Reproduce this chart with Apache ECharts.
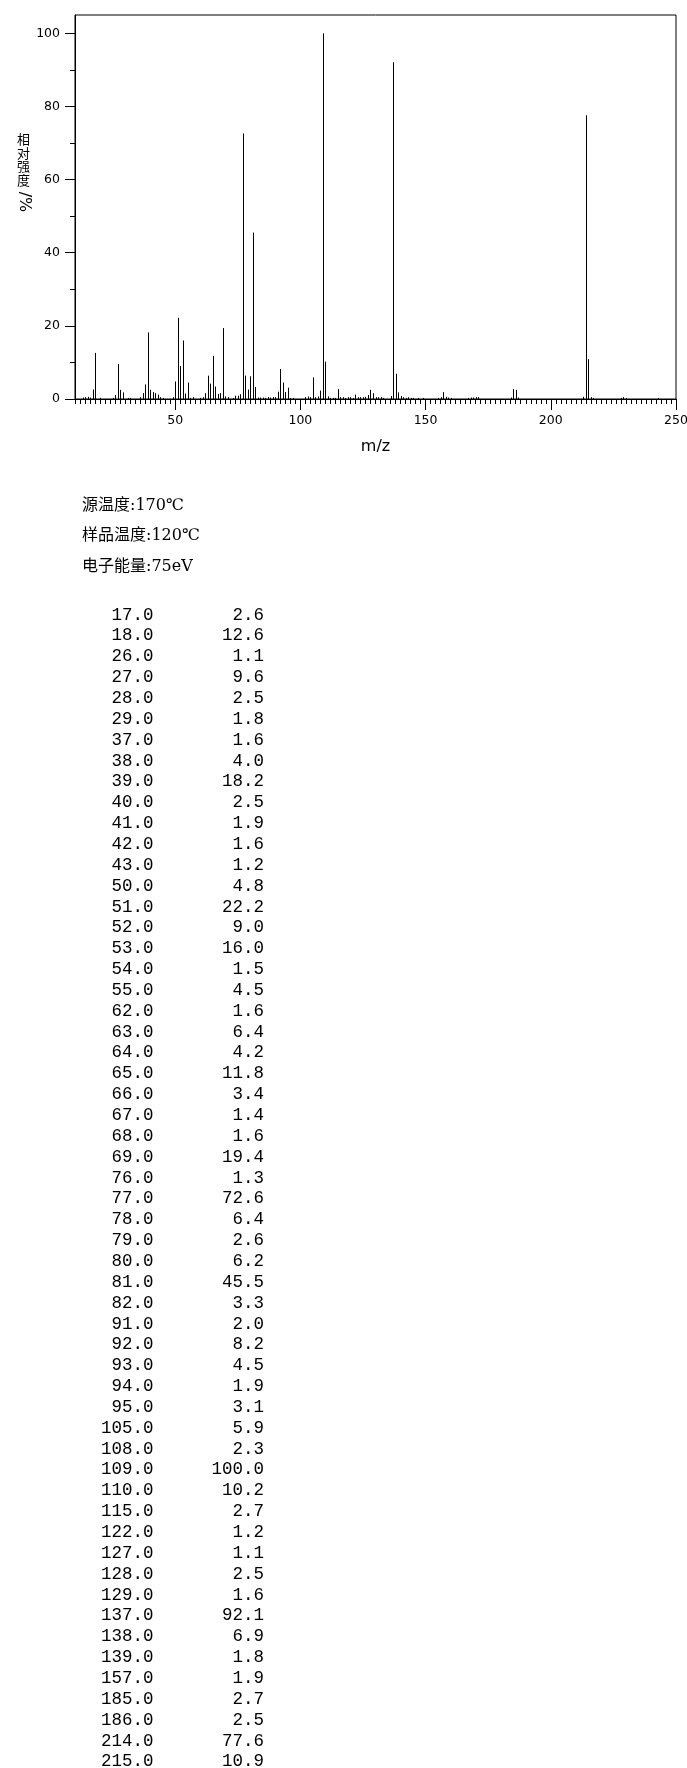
<!DOCTYPE html>
<html>
<head>
<meta charset="utf-8">
<script src="https://cdn.jsdelivr.net/npm/echarts@6/dist/echarts.min.js"></script>
<style>
html,body{margin:0;padding:0;background:#fff;}
#chart{width:687px;height:1768px;}
</style>
</head>
<body>
<div id="chart"></div>
<script>
// Listed peaks (m/z, relative intensity %)
const tableMz = [17,18,26,27,28,29,37,38,39,40,41,42,43,50,51,52,53,54,55,62,63,64,65,66,67,68,69,76,77,78,79,80,81,82,91,92,93,94,95,105,108,109,110,115,122,127,128,129,137,138,139,157,185,186,214,215];
const tableInt = [2.6,12.6,1.1,9.6,2.5,1.8,1.6,4.0,18.2,2.5,1.9,1.6,1.2,4.8,22.2,9.0,16.0,1.5,4.5,1.6,6.4,4.2,11.8,3.4,1.4,1.6,19.4,1.3,72.6,6.4,2.6,6.2,45.5,3.3,2.0,8.2,4.5,1.9,3.1,5.9,2.3,100.0,10.2,2.7,1.2,1.1,2.5,1.6,92.1,6.9,1.8,1.9,2.7,2.5,77.6,10.9];

// Small peaks visible in the spectrum but below the listing threshold (estimated)
const minorMz = [
  13,14,15,16,
  20,25,
  31,32,36,
  44,45,49,
  56,57,60,61,
  70,71,73,74,75,
  83,84,85,86,87,88,89,90,
  96,97,
  102,103,104,
  106,107,
  111,112,113,114,
  116,117,118,119,120,121,
  123,124,125,126,
  130,131,132,133,
  136,
  140,141,142,143,144,145,
  147,149,
  155,156,158,159,160,
  167,168,169,170,171,
  184,187,
  213,216,217,
  228,229,230,
  243
];
const minorInt = [
  0.4,0.5,0.6,0.4,
  0.3,0.3,
  0.3,0.3,0.5,
  0.5,0.3,0.5,
  0.3,0.5,0.3,0.5,
  0.7,0.5,0.3,0.9,0.9,
  0.4,0.4,0.4,0.3,0.5,0.4,0.5,0.5,
  0.3,0.3,
  0.5,0.7,0.5,
  0.5,0.7,
  0.7,0.3,0.3,0.3,
  0.5,0.5,0.3,0.5,0.5,0.3,
  0.5,0.5,0.5,0.6,
  0.5,0.5,0.5,0.3,
  0.8,
  0.8,0.5,0.3,0.5,0.3,0.3,
  0.3,0.3,
  0.3,0.5,0.6,0.4,0.3,
  0.3,0.4,0.4,0.5,0.5,
  0.4,0.4,
  0.6,0.5,0.3,
  0.3,0.5,0.3,
  0.3
];

// Axis ticks / labels
const xMin = 10, xMax = 250;
const xMajorTicks = [50,100,150,200,250];
const yMax = 105;
const yMajorTicks = [0,20,40,60,80,100];

// Text
const infoLines = ['源温度:170℃', '样品温度:120℃', '电子能量:75eV'];
const yTitleHead = '相\n对\n强\n度';
const yTitleTail = '/%';
const xTitle = 'm/z';

const xMinorTicks = [];
for (let v = xMin; v <= xMax; v += 2) xMinorTicks.push(v);
const yMinorTicks = [];
for (let v = 0; v <= 100; v += 10) yMinorTicks.push(v);

const peaks = tableMz.map((m, i) => [m, tableInt[i]])
  .concat(minorMz.map((m, i) => [m, minorInt[i]]));

const graphics = [];
// y-axis title: stacked upright CJK chars + tail turned clockwise
graphics.push({type:'text', id:'ytHead', left:17, top:132, style:{text:yTitleHead, fill:'#000', font:'13px "Noto Sans CJK SC"', lineHeight:13.8}});
graphics.push({type:'group', id:'ytTailG', x:24, y:202, children:[
  {type:'text', id:'ytTail', rotation:-Math.PI/2, style:{text:yTitleTail, fill:'#000', font:'16px "DejaVu Sans"', x:0, y:0, align:'center', verticalAlign:'middle'}}
]});

// info lines
infoLines.forEach((t, i) => {
  graphics.push({type:'text', id:'info'+i, x:82, y:506 + i*30.3, style:{text:t, fill:'#000', font:'16px "DejaVu Serif","Noto Sans CJK SC"', align:'left', verticalAlign:'middle'}});
});

// table
const rowY0 = 615, rowH = 20.85;
tableMz.forEach((m, i) => {
  const y = rowY0 + i*rowH;
  graphics.push({type:'text', id:'mz'+i, x:153.5, y:y, style:{text:m.toFixed(1), fill:'#000', font:'17.5px "Liberation Mono"', align:'right', verticalAlign:'middle'}});
  graphics.push({type:'text', id:'in'+i, x:264, y:y, style:{text:tableInt[i].toFixed(1), fill:'#000', font:'17.5px "Liberation Mono"', align:'right', verticalAlign:'middle'}});
});

const chart = echarts.init(document.getElementById('chart'), null, {renderer:'canvas'});
const lblFont = {color:'#000', fontFamily:'DejaVu Sans', fontSize:12.5};
chart.setOption({
  backgroundColor:'#fff',
  animation:false,
  grid:{left:75, right:11, top:15, bottom:1369, show:true, borderColor:'#000', borderWidth:1, containLabel:false, outerBoundsMode:'none'},
  xAxis:[
    {type:'value', position:'bottom', min:xMin, max:xMax,
     axisLine:{show:true, onZero:false, lineStyle:{color:'#000', width:1}},
     axisTick:{show:true, length:5, customValues:xMinorTicks, lineStyle:{color:'#000'}},
     axisLabel:{show:false}, splitLine:{show:false},
     name:xTitle, nameLocation:'middle', nameGap:48,
     nameTextStyle:{color:'#000', fontFamily:'DejaVu Sans', fontSize:16, verticalAlign:'middle'}},
    {type:'value', position:'bottom', min:xMin, max:xMax,
     axisLine:{show:false, onZero:false},
     axisTick:{show:true, length:11, customValues:xMajorTicks, lineStyle:{color:'#000'}},
     axisLabel:Object.assign({show:true, margin:15, customValues:xMajorTicks, showMinLabel:true, showMaxLabel:true}, lblFont),
     splitLine:{show:false}}
  ],
  yAxis:[
    {type:'value', position:'left', min:0, max:yMax,
     axisLine:{show:true, onZero:false, lineStyle:{color:'#000', width:1}},
     axisTick:{show:true, length:5, customValues:yMinorTicks, lineStyle:{color:'#000'}},
     axisLabel:{show:false}, splitLine:{show:false}},
    {type:'value', position:'left', min:0, max:yMax,
     axisLine:{show:false, onZero:false},
     axisTick:{show:true, length:10, customValues:yMajorTicks, lineStyle:{color:'#000'}},
     axisLabel:Object.assign({show:true, margin:15, customValues:yMajorTicks}, lblFont),
     splitLine:{show:false}}
  ],
  series:[{
    type:'custom', xAxisIndex:0, yAxisIndex:0, data:peaks,
    encode:{x:0, y:1},
    renderItem:function(params, api){
      const x = api.value(0), y = api.value(1);
      const p0 = api.coord([x, 0]);
      const p1 = api.coord([x, y]);
      const px = Math.round(p0[0]) + 0.5;
      return {type:'line', shape:{x1:px, y1:p0[1], x2:px, y2:p1[1]}, style:{stroke:'#000', lineWidth:1}};
    }
  }],
  graphic:graphics
});
</script>
</body>
</html>
